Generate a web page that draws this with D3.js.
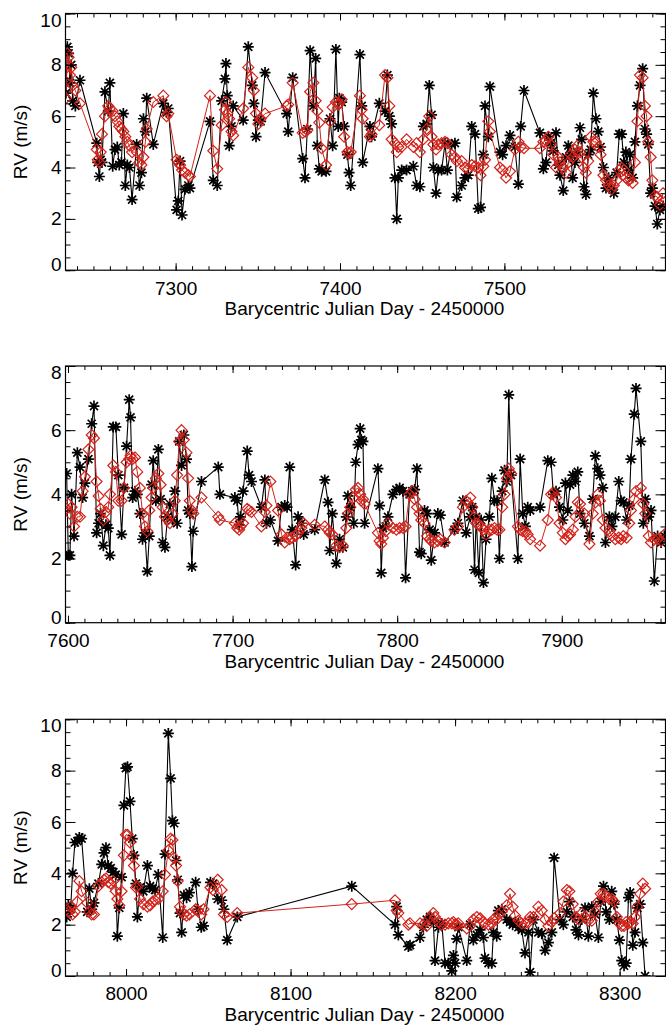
<!DOCTYPE html>
<html>
<head>
<meta charset="utf-8">
<script src="https://cdn.jsdelivr.net/npm/d3@7"></script>
<style>
  body { margin: 0; background: #fff; }
  svg { display: block; font-family: "Liberation Sans", Arial, Helvetica, sans-serif; }
</style>
</head>
<body>
<svg id="chart" width="666" height="1026"></svg>
<script>
'use strict';

// ---- panel 1 (BJD 7233 - 7598) ----
const time1 = [
  7233.3, 7234.1, 7234.9, 7235.7, 7236.5, 7237.4, 7239.0, 7241.8, 7252.0, 7252.6,
  7253.6, 7254.4, 7255.2, 7257.0, 7259.0, 7260.0, 7261.7, 7263.1, 7264.5, 7265.7,
  7267.0, 7268.2, 7269.4, 7270.6, 7271.9, 7273.5, 7276.3, 7278.0, 7279.2, 7280.4,
  7281.6, 7282.4, 7286.4, 7292.5, 7294.5, 7295.5, 7300.6, 7301.6, 7302.7, 7303.9,
  7305.7, 7307.7, 7308.7, 7320.9, 7322.9, 7325.3, 7328.0, 7330.0, 7330.6, 7331.4,
  7332.6, 7334.0, 7335.0, 7341.1, 7344.2, 7346.6, 7347.6, 7348.9, 7350.3, 7351.7,
  7354.4, 7367.5, 7368.5, 7371.2, 7377.3, 7378.7, 7380.1, 7381.8, 7383.8, 7385.2,
  7386.2, 7387.4, 7388.8, 7391.5, 7393.9, 7395.5, 7397.5, 7398.9, 7399.6, 7401.0,
  7402.5, 7404.5, 7405.5, 7406.5, 7412.1, 7413.2, 7413.8, 7418.2, 7419.2, 7423.9,
  7427.4, 7428.8, 7430.0, 7431.4, 7433.4, 7434.5, 7435.5, 7437.5, 7440.5, 7444.6,
  7446.6, 7448.6, 7450.7, 7452.7, 7454.3, 7455.7, 7456.8, 7458.4, 7459.8, 7461.8,
  7463.9, 7465.3, 7467.9, 7469.9, 7471.0, 7474.0, 7476.0, 7478.0, 7480.1, 7482.1,
  7484.1, 7485.5, 7487.2, 7488.2, 7490.2, 7491.2, 7497.3, 7498.9, 7501.0, 7503.4,
  7506.4, 7508.5, 7509.9, 7511.9, 7521.6, 7523.7, 7525.3, 7526.7, 7528.1, 7529.7,
  7531.4, 7532.8, 7533.8, 7535.8, 7537.5, 7538.9, 7540.3, 7541.5, 7542.9, 7544.3,
  7546.0, 7547.0, 7548.4, 7549.6, 7551.0, 7552.5, 7554.1, 7555.7, 7557.1, 7558.5,
  7560.2, 7561.8, 7563.4, 7565.2, 7566.6, 7568.3, 7569.9, 7571.3, 7572.7, 7573.9,
  7575.4, 7576.4, 7578.0, 7579.4, 7580.9, 7582.5, 7584.1, 7585.5, 7586.5, 7587.5,
  7589.0, 7590.0, 7591.6, 7593.0, 7594.6, 7596.5
];
const rv1 = [
  6.9, 8.7, 8.45, 7.3, 8.0, 6.6, 6.4, 7.4, 4.95, 4.2,
  3.65, 4.3, 4.2, 6.95, 6.2, 7.3, 4.05, 4.7, 4.8, 4.1,
  4.2, 6.1, 3.3, 4.1, 4.0, 2.75, 4.9, 3.3, 3.8, 5.9,
  5.4, 6.7, 4.9, 6.5, 6.15, 6.3, 2.35, 2.7, 4.25, 2.15,
  3.15, 3.3, 3.2, 5.8, 3.5, 3.3, 6.6, 7.45, 8.05, 6.8,
  4.85, 5.6, 6.4, 5.85, 8.7, 7.2, 6.5, 5.2, 5.85, 5.8,
  7.7, 6.1, 5.4, 7.5, 4.35, 3.6, 5.5, 8.55, 6.4, 8.25,
  4.85, 3.95, 3.85, 3.85, 5.9, 4.85, 8.6, 5.6, 6.7, 6.55,
  5.6, 4.5, 3.8, 3.3, 8.4, 6.4, 4.2, 5.6, 5.2, 6.5,
  6.2, 7.6, 6.0, 5.7, 3.6, 2.0, 3.6, 3.9, 3.9, 4.05,
  3.3, 3.25, 5.6, 5.7, 7.2, 6.05, 4.0, 3.0, 3.9, 3.9,
  4.95, 3.9, 4.9, 4.95, 2.85, 3.3, 3.6, 3.7, 5.6, 5.3,
  2.4, 2.45, 4.5, 6.4, 5.2, 7.15, 4.6, 4.5, 4.85, 5.25,
  4.8, 3.35, 5.6, 7.0, 5.35, 3.95, 4.2, 5.2, 4.95, 4.65,
  5.35, 4.1, 3.7, 3.1, 4.4, 4.85, 4.5, 3.6, 4.2, 4.6,
  5.55, 5.1, 3.25, 2.95, 4.5, 4.7, 6.9, 5.9, 5.4, 4.8,
  4.0, 3.2, 3.6, 3.2, 3.0, 3.8, 5.3, 5.3, 4.2, 4.6,
  3.9, 4.5, 3.6, 5.0, 6.4, 7.2, 7.85, 5.5, 5.3, 4.9,
  3.0, 3.2, 2.5, 1.8, 2.35, 2.5
];
const fit1 = [
  6.7, 8.45, 8.3, 7.6, 7.9, 7.2, 7.0, 6.5, 4.7, 4.3,
  4.2, 4.6, 5.3, 6.0, 6.4, 6.3, 6.2, 6.0, 5.8, 5.6,
  5.5, 5.4, 5.2, 5.0, 4.85, 4.6, 4.6, 4.2, 4.1, 4.4,
  5.0, 5.5, 6.55, 6.8, 6.0, 6.1, 4.3, 4.2, 4.1, 3.9,
  3.8, 3.7, 3.65, 6.8, 4.65, 3.95, 5.65, 6.25, 6.55, 6.1,
  5.9, 5.4, 5.25, 6.3, 7.9, 7.5, 7.0, 6.1, 5.7, 5.9,
  6.1, 6.4, 6.45, 7.3, 5.35, 5.4, 5.45, 6.95, 7.3, 6.6,
  6.2, 5.75, 4.75, 4.1, 5.8, 6.35, 6.55, 6.45, 6.5, 6.65,
  5.2, 4.6, 4.55, 4.6, 6.8, 6.25, 5.9, 5.2, 5.3, 5.65,
  7.6, 7.5, 6.4, 5.1, 4.95, 4.6, 4.8, 4.8, 5.1, 4.8,
  4.95, 4.6, 5.1, 5.5, 6.0, 5.2, 4.9, 4.7, 4.9, 4.95,
  5.0, 4.95, 4.5, 4.4, 4.25, 4.25, 4.0, 3.95, 4.1, 4.05,
  4.0, 3.7, 4.05, 4.3, 5.8, 5.4, 4.0, 3.9, 3.6, 3.85,
  4.7, 5.0, 4.8, 4.75, 4.75, 5.0, 5.05, 5.2, 4.9, 4.5,
  4.0, 4.4, 4.2, 4.0, 3.8, 4.2, 4.5, 4.4, 4.7, 4.85,
  4.6, 4.4, 4.0, 3.8, 4.25, 5.2, 5.0, 5.0, 4.8, 4.5,
  3.7, 3.5, 3.3, 3.15, 3.3, 3.5, 3.9, 4.0, 3.9, 3.6,
  3.5, 3.55, 3.4, 4.2, 5.8, 7.6, 7.5, 6.4, 6.0, 5.0,
  4.4, 3.5, 2.9, 2.85, 2.55, 3.0
];

// ---- panel 2 (BJD 7598 - 7963) ----
const time2 = [
  7599.2, 7600.2, 7601.2, 7602.2, 7603.7, 7605.7, 7607.3, 7608.9, 7610.3, 7612.4,
  7614.4, 7615.8, 7617.4, 7618.6, 7619.8, 7621.5, 7623.1, 7624.5, 7625.5, 7627.5,
  7629.1, 7630.6, 7632.6, 7634.0, 7635.6, 7637.2, 7638.0, 7639.3, 7640.7, 7642.1,
  7643.7, 7645.3, 7646.7, 7648.2, 7649.4, 7650.8, 7651.8, 7653.4, 7654.9, 7656.3,
  7657.5, 7658.9, 7660.5, 7661.9, 7663.5, 7664.9, 7666.3, 7667.6, 7669.0, 7670.4,
  7672.0, 7673.0, 7674.0, 7675.3, 7676.1, 7681.1, 7691.3, 7692.3, 7701.4, 7702.8,
  7704.0, 7704.8, 7706.4, 7708.9, 7710.0, 7711.5, 7717.5, 7719.6, 7720.6, 7723.0,
  7727.6, 7729.7, 7731.7, 7733.1, 7734.7, 7736.3, 7738.3, 7739.8, 7741.8, 7743.2,
  7749.9, 7756.0, 7758.0, 7759.0, 7760.6, 7763.0, 7765.0, 7767.0, 7769.1, 7770.1,
  7771.5, 7773.6, 7774.8, 7776.2, 7777.5, 7778.2, 7779.2, 7780.2, 7788.3, 7789.3,
  7790.3, 7791.4, 7793.0, 7794.4, 7797.4, 7799.5, 7801.5, 7803.5, 7805.1, 7807.5,
  7809.2, 7810.6, 7812.0, 7813.6, 7814.6, 7816.6, 7818.1, 7819.7, 7820.7, 7822.7,
  7824.7, 7826.2, 7828.8, 7834.8, 7836.9, 7839.9, 7841.9, 7844.4, 7845.6, 7847.0,
  7848.0, 7849.6, 7851.0, 7852.4, 7854.0, 7856.0, 7857.5, 7859.1, 7860.7, 7862.1,
  7863.8, 7865.2, 7866.6, 7867.8, 7869.2, 7873.3, 7874.7, 7876.3, 7877.9, 7879.3,
  7880.8, 7886.8, 7891.5, 7893.5, 7894.9, 7896.5, 7898.6, 7900.6, 7902.2, 7903.6,
  7905.0, 7906.7, 7908.3, 7909.7, 7911.1, 7913.7, 7916.8, 7918.8, 7920.4, 7921.8,
  7923.2, 7924.9, 7926.5, 7928.9, 7930.5, 7932.5, 7934.6, 7936.0, 7937.4, 7939.4,
  7941.0, 7942.0, 7944.0, 7945.1, 7948.0, 7949.5, 7950.7, 7952.8, 7954.2, 7956.2,
  7958.2, 7960.3, 7962.3
];
const rv2 = [
  4.65, 2.1, 2.1, 4.0, 2.7, 5.3, 4.85, 3.9, 4.35, 5.1,
  6.2, 6.75, 2.8, 3.1, 3.4, 2.4, 3.05, 2.95, 2.1, 6.1,
  6.1, 4.6, 2.75, 4.2, 5.5, 6.95, 6.4, 3.9, 4.1, 4.0,
  3.4, 2.6, 2.8, 1.6, 2.7, 4.3, 5.05, 3.8, 5.4, 3.85,
  2.5, 2.35, 3.3, 3.7, 3.2, 4.1, 3.1, 5.65, 4.9, 5.85,
  5.1, 3.5, 3.4, 1.75, 2.85, 4.4, 4.85, 4.0, 3.9, 3.8,
  3.05, 3.3, 4.1, 5.35, 4.6, 4.4, 3.6, 4.45, 3.1, 3.2,
  2.55, 3.6, 3.65, 3.6, 4.85, 2.9, 1.8, 3.3, 3.1, 2.75,
  2.9, 4.45, 3.75, 2.25, 3.4, 1.85, 2.6, 2.35, 3.3, 3.95,
  3.6, 3.1, 5.0, 5.55, 6.05, 5.7, 5.65, 3.1, 4.8, 3.65,
  1.55, 2.95, 3.0, 3.3, 4.0, 4.15, 4.2, 4.1, 1.4, 4.0,
  4.1, 4.15, 4.8, 2.2, 2.15, 3.5, 3.4, 2.9, 1.95, 2.8,
  3.4, 3.35, 2.5, 2.9, 3.1, 3.8, 2.8, 3.3, 3.6, 1.65,
  3.3, 1.55, 3.2, 1.25, 2.6, 3.3, 4.5, 3.8, 3.8, 2.0,
  4.1, 4.75, 4.4, 7.1, 4.6, 2.0, 5.1, 3.4, 3.0, 3.6,
  3.5, 3.6, 5.05, 5.0, 4.0, 4.1, 3.6, 3.2, 4.35, 3.5,
  4.3, 4.6, 4.4, 4.7, 3.4, 3.1, 2.7, 3.85, 5.2, 4.8,
  4.6, 4.2, 2.5, 3.3, 3.0, 3.3, 4.4, 3.8, 3.75, 3.2,
  3.65, 5.1, 6.5, 7.3, 5.65, 3.1, 3.85, 3.3, 3.5, 1.3,
  2.7, 2.5, 2.7
];
const fit2 = [
  3.55, 3.7, 3.4, 3.6, 3.0, 3.3, 3.3, 4.1, 4.55, 5.4,
  5.85, 5.75, 4.4, 3.95, 3.55, 3.2, 3.45, 3.6, 4.0, 4.9,
  4.7, 3.8, 3.8, 4.2, 5.0, 5.1, 5.2, 5.1, 5.15, 4.7,
  4.2, 3.4, 3.0, 2.85, 3.5, 3.9, 4.2, 4.5, 4.65, 4.3,
  3.6, 3.3, 3.2, 3.1, 3.4, 3.8, 4.6, 5.65, 6.0, 5.7,
  5.3, 4.5, 3.8, 3.5, 3.4, 3.9, 3.3, 3.2, 3.1, 2.95,
  2.9, 3.0, 3.1, 3.55, 3.5, 3.45, 3.0, 3.45, 3.65, 4.4,
  3.5, 2.75, 2.5, 2.65, 2.6, 2.65, 2.7, 2.8, 2.95, 3.1,
  3.05, 3.0, 2.9, 2.8, 2.75, 2.4, 2.35, 2.4, 2.95, 3.4,
  3.6, 3.9, 4.15, 4.2, 4.0, 3.8, 3.85, 3.7, 2.8, 2.55,
  2.45, 2.65, 2.85, 3.1, 2.95, 2.9, 2.95, 2.95, 3.0, 4.0,
  4.1, 3.85, 3.6, 3.4, 3.2, 3.1, 2.7, 2.6, 2.55, 2.5,
  2.55, 2.6, 2.5, 2.9, 3.0, 3.6, 3.8, 3.9, 3.6, 3.3,
  3.1, 3.05, 3.0, 2.9, 2.75, 2.9, 2.9, 2.95, 2.9, 2.9,
  3.6, 4.0, 4.5, 4.8, 4.65, 3.0, 2.9, 2.85, 2.85, 2.75,
  2.6, 2.4, 3.2, 4.0, 4.05, 3.9, 3.1, 2.8, 2.6, 2.7,
  2.75, 2.9, 3.3, 3.75, 3.7, 3.4, 2.45, 3.4, 3.75, 4.0,
  3.8, 3.2, 2.95, 2.85, 2.7, 2.6, 2.65, 2.6, 2.7, 2.65,
  3.1, 3.5, 3.85, 4.1, 4.2, 3.7, 3.4, 2.7, 2.5, 2.6,
  2.6, 2.55, 2.75
];

// ---- panel 3 (BJD 7963 - 8328) ----
const time3 = [
  7963.9, 7964.9, 7966.3, 7967.5, 7968.9, 7970.4, 7971.6, 7973.0, 7976.4, 7977.7,
  7979.1, 7980.5, 7983.2, 7985.2, 7986.6, 7987.8, 7989.2, 7990.7, 7992.3, 7993.7,
  7994.7, 7995.9, 7997.3, 7998.7, 7999.9, 8000.9, 8002.4, 8003.8, 8004.8, 8006.0,
  8006.9, 8008.5, 8010.5, 8013.0, 8014.6, 8016.2, 8017.6, 8019.6, 8022.3, 8023.7,
  8025.7, 8027.1, 8028.2, 8029.2, 8030.4, 8031.4, 8032.8, 8033.8, 8035.2, 8036.8,
  8038.5, 8042.3, 8043.7, 8045.7, 8047.1, 8051.3, 8052.8, 8055.7, 8058.1, 8059.5,
  8061.5, 8067.6, 8137.2, 8163.5, 8164.5, 8165.5, 8171.6, 8172.6, 8178.7, 8180.7,
  8182.8, 8184.8, 8186.8, 8187.8, 8189.9, 8191.9, 8193.9, 8195.9, 8198.0, 8199.0,
  8200.0, 8201.0, 8202.0, 8207.1, 8209.1, 8211.1, 8213.2, 8215.2, 8217.2, 8218.2,
  8220.3, 8222.3, 8223.3, 8225.3, 8226.3, 8228.4, 8231.4, 8233.4, 8235.0, 8236.5,
  8238.5, 8240.5, 8242.5, 8244.6, 8245.6, 8247.6, 8250.6, 8252.7, 8254.7, 8256.7,
  8258.8, 8260.2, 8263.8, 8265.8, 8267.9, 8269.5, 8271.5, 8273.5, 8275.0, 8277.0,
  8279.0, 8281.0, 8283.1, 8285.1, 8287.1, 8288.5, 8290.2, 8291.8, 8293.8, 8295.2,
  8296.6, 8298.3, 8299.9, 8301.3, 8302.7, 8304.0, 8305.4, 8306.4, 8308.0, 8309.4,
  8310.8, 8312.5, 8314.1, 8315.5
];
const rv3 = [
  2.3, 2.75, 2.6, 4.0, 5.2, 5.25, 5.4, 5.35, 2.5, 3.4,
  2.6, 2.85, 3.6, 4.35, 4.8, 5.0, 4.3, 4.2, 4.05, 3.95,
  1.55, 2.65, 3.85, 6.65, 8.1, 8.15, 6.8, 5.35, 4.7, 3.6,
  2.3, 3.45, 3.3, 4.3, 3.5, 3.4, 3.35, 3.95, 1.5, 4.75,
  9.45, 7.7, 6.05, 5.95, 4.5, 3.75, 2.45, 1.7, 3.15, 3.05,
  3.25, 3.65, 2.6, 1.9, 1.95, 3.65, 3.6, 3.0, 2.95, 2.6,
  1.4, 2.3, 3.5, 2.0, 2.7, 1.6, 1.15, 1.2, 1.5, 1.9,
  2.2, 2.3, 2.1, 0.6, 1.9, 2.05, 0.5, 0.5, 0.2, 0.8,
  0.5, 1.45, 1.9, 0.6, 2.0, 1.4, 1.6, 1.8, 1.5, 0.7,
  0.5, 0.5, 1.7, 1.55, 2.55, 2.6, 2.2, 2.1, 2.0, 2.1,
  1.9, 1.8, 0.9, 1.7, 0.15, 2.2, 1.7, 1.65, 1.0, 1.3,
  1.7, 4.6, 2.2, 2.0, 2.5, 2.9, 2.3, 1.8, 1.6, 2.2,
  2.65, 1.55, 2.7, 2.4, 1.5, 2.9, 3.5, 2.5, 2.2, 3.3,
  2.8, 2.2, 1.4, 0.6, 0.4, 0.5, 3.05, 3.25, 1.2, 1.7,
  2.65, 2.8, 1.3, 0.0
];
const fit3 = [
  2.6, 2.5, 2.7, 2.4, 2.5, 2.9, 3.7, 3.3, 2.85, 2.5,
  2.4, 2.4, 3.5, 3.65, 3.75, 3.8, 3.65, 3.6, 3.7, 3.3,
  3.0, 2.75, 3.3, 4.7, 5.5, 5.5, 5.2, 4.65, 4.3, 3.45,
  3.5, 3.0, 2.8, 2.7, 2.75, 2.9, 2.95, 3.0, 3.3, 3.95,
  4.9, 5.35, 5.3, 4.6, 4.3, 3.7, 2.7, 2.5, 2.4, 2.35,
  2.4, 2.6, 2.55, 2.4, 2.6, 3.45, 3.35, 3.75, 3.35, 2.4,
  2.3, 2.45, 2.8, 2.95, 2.55, 2.45, 2.0, 2.05, 2.05, 2.0,
  1.95, 2.3, 2.45, 2.3, 2.1, 2.0, 2.0, 2.05, 2.05, 2.1,
  2.0, 2.0, 2.05, 1.85, 1.95, 2.2, 2.3, 2.25, 2.1, 2.05,
  2.0, 2.05, 2.2, 2.2, 2.4, 2.5, 2.75, 3.2, 2.7, 2.35,
  2.15, 2.05, 2.05, 2.1, 2.3, 2.3, 2.7, 2.55, 2.2, 1.95,
  2.1, 2.25, 2.45, 2.9, 3.35, 3.3, 2.8, 2.3, 2.2, 2.45,
  2.3, 2.15, 2.15, 2.5, 2.9, 3.2, 3.2, 3.1, 3.0, 3.0,
  2.9, 2.3, 2.05, 1.95, 1.95, 2.1, 2.05, 2.1, 2.05, 2.3,
  2.7, 3.2, 3.6, 3.4
];

const xTicks1 = [7300, 7400, 7500];
const xTicks2 = [7600, 7700, 7800, 7900];
const xTicks3 = [8000, 8100, 8200, 8300];
const yTicks10 = [0, 2, 4, 6, 8, 10];
const yTicks8 = [0, 2, 4, 6, 8];

const xTitle = 'Barycentric Julian Day - 2450000';
const yTitle = 'RV (m/s)';

const panels = [
  { time: time1, rv: rv1, fit: fit1, xDomain: [7233, 7598], yMax: 10, xTicks: xTicks1, yTicks: yTicks10, top: 13.5 },
  { time: time2, rv: rv2, fit: fit2, xDomain: [7598.5, 7963], yMax: 8, xTicks: xTicks2, yTicks: yTicks8, top: 366 },
  { time: time3, rv: rv3, fit: fit3, xDomain: [7963.2, 8327.9], yMax: 10, xTicks: xTicks3, yTicks: yTicks10, top: 719.3 },
];

const box = { left: 65.5, w: 600, h: 256.7 };
const red = '#d2231a';
const fontSize = 19;

// IDL style asterisk: + and x overlaid
const star = 'M-5.5,0H5.5M0,-5.5V5.5M-4,-4L4,4M-4,4L4,-4';
const diamond = d3.symbol().type(d3.symbolDiamond2).size(76)();

const svg = d3.select('#chart');

panels.forEach((p, i) => {
  const x = d3.scaleLinear().domain(p.xDomain).range([0, box.w]);
  const y = d3.scaleLinear().domain([0, p.yMax]).range([box.h, 0]);

  const g = svg.append('g')
    .attr('transform', `translate(${box.left},${p.top})`);

  g.append('clipPath')
    .attr('id', `clip${i}`)
    .append('rect')
    .attr('width', box.w)
    .attr('height', box.h);

  const pts = p.time.map((t, k) => ({ t: t, rv: p.rv[k], fit: p.fit[k] }));

  const plot = g.append('g').attr('clip-path', `url(#clip${i})`);

  const lineRv = d3.line().x(d => x(d.t)).y(d => y(d.rv));
  const lineFit = d3.line().x(d => x(d.t)).y(d => y(d.fit));

  plot.append('path')
    .datum(pts)
    .attr('d', lineRv)
    .attr('fill', 'none')
    .attr('stroke', '#000')
    .attr('stroke-width', 1.1);

  plot.selectAll('.star')
    .data(pts)
    .enter()
    .append('path')
    .attr('class', 'star')
    .attr('d', star)
    .attr('transform', d => `translate(${x(d.t)},${y(d.rv)})`)
    .attr('fill', 'none')
    .attr('stroke', '#000')
    .attr('stroke-width', 1.7);

  plot.append('path')
    .datum(pts)
    .attr('d', lineFit)
    .attr('fill', 'none')
    .attr('stroke', red)
    .attr('stroke-width', 1);

  plot.selectAll('.diamond')
    .data(pts)
    .enter()
    .append('path')
    .attr('class', 'diamond')
    .attr('d', diamond)
    .attr('transform', d => `translate(${x(d.t)},${y(d.fit)})`)
    .attr('fill', 'none')
    .attr('stroke', red)
    .attr('stroke-width', 1.2);

  // axes, ticks pointing inward on all four sides
  const xMinor = d3.range(Math.ceil(p.xDomain[0] / 10) * 10, p.xDomain[1], 10);
  const yMinor = d3.range(0, p.yMax + 0.01, 0.5);

  const axes = [
    { gen: d3.axisBottom, scale: x, at: `translate(0,${box.h})`, major: p.xTicks, minor: xMinor, big: 7, small: 4, labels: true },
    { gen: d3.axisTop, scale: x, at: 'translate(0,0)', major: p.xTicks, minor: xMinor, big: 7, small: 4, labels: false },
    { gen: d3.axisLeft, scale: y, at: 'translate(0,0)', major: p.yTicks, minor: yMinor, big: 10, small: 5, labels: true },
    { gen: d3.axisRight, scale: y, at: `translate(${box.w},0)`, major: p.yTicks, minor: yMinor, big: 10, small: 5, labels: false },
  ];

  axes.forEach(a => {
    const minor = g.append('g')
      .attr('transform', a.at)
      .call(a.gen(a.scale).tickValues(a.minor).tickSize(-a.small).tickSizeOuter(0).tickFormat(''));
    minor.select('.domain').remove();

    const major = g.append('g')
      .attr('class', 'major')
      .attr('transform', a.at)
      .call(a.gen(a.scale).tickValues(a.major).tickSize(-a.big).tickSizeOuter(0)
        .tickPadding(a.gen === d3.axisBottom ? 11 : 4)
        .tickFormat(a.labels ? d3.format('d') : ''));
    major.select('.domain').remove();
    major.selectAll('text')
      .attr('fill', '#000')
      .style('font-size', `${fontSize}px`)
      .style('font-family', '"Liberation Sans", Arial, sans-serif');

    // end labels on the value axis sit a bit inside the frame
    if (a.gen === d3.axisLeft) {
      major.selectAll('text')
        .attr('transform', d => d === p.yMax ? 'translate(0,6.5)' : d === 0 ? 'translate(0,-5.5)' : null);
    }
  });

  g.selectAll('.tick line').attr('stroke', '#000').attr('stroke-width', 1);

  g.append('rect')
    .attr('width', box.w)
    .attr('height', box.h)
    .attr('fill', 'none')
    .attr('stroke', '#000')
    .attr('stroke-width', 1.2);

  g.append('text')
    .attr('x', box.w / 2 - 1)
    .attr('y', box.h + 45)
    .attr('text-anchor', 'middle')
    .style('font-size', `${fontSize}px`)
    .text(xTitle);

  g.append('text')
    .attr('transform', `translate(${27 - box.left},${box.h / 2}) rotate(-90)`)
    .attr('text-anchor', 'middle')
    .style('font-size', `${fontSize}px`)
    .text(yTitle);
});
</script>
</body>
</html>
